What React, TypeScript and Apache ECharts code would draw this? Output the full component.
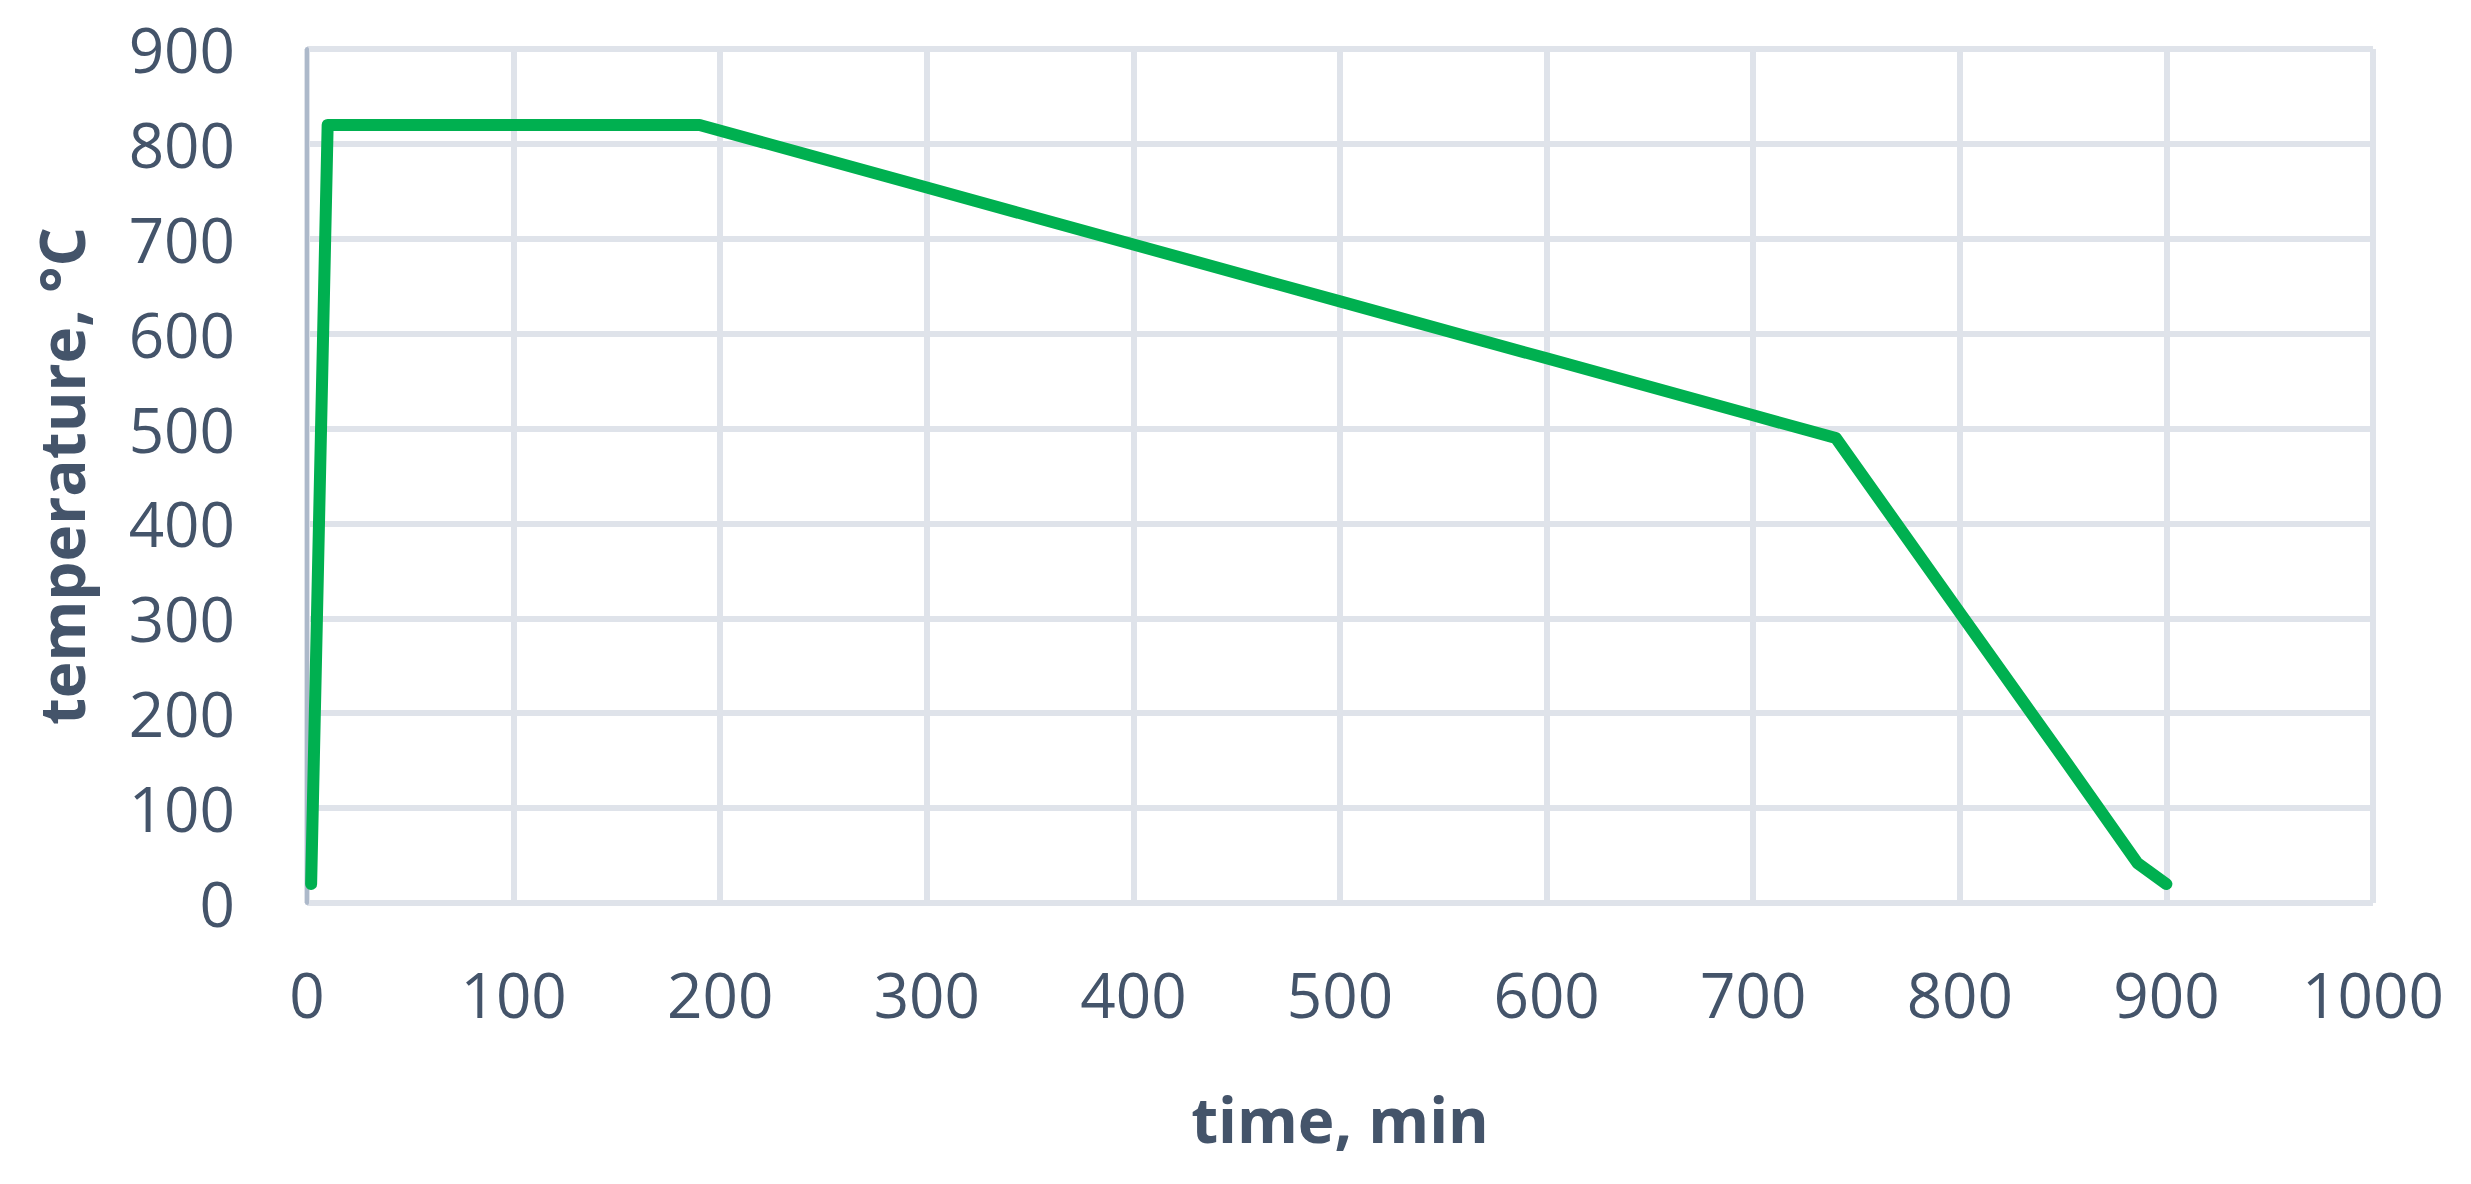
import React, { useEffect, useRef } from "react";
import * as echarts from "echarts";

const timeMin = [2, 10, 190, 300, 400, 500, 600, 700, 740, 800, 852, 886, 900];
const temperatureC = [20, 820, 820, 754, 694, 634, 574, 514, 490, 306, 147, 42, 20];
const xTicks = [0, 100, 200, 300, 400, 500, 600, 700, 800, 900, 1000];
const yTicks = [0, 100, 200, 300, 400, 500, 600, 700, 800, 900];

const TEXT = "#44546a";
const GRID = "#dfe3ea";
const FONT = "'Open Sans', 'Noto Sans', sans-serif";

export default function App() {
  const ref = useRef<HTMLDivElement>(null);
  useEffect(() => {
    if (!ref.current) return;
    const chart = echarts.init(ref.current, undefined, { renderer: "svg" });
    const data = timeMin.map((t, i) => [t, temperatureC[i]]);
    chart.setOption({
      animation: false,
      backgroundColor: "#ffffff",
      grid: { left: 307, right: 98, top: 49, bottom: 281, containLabel: false },
      xAxis: {
        type: "value",
        min: xTicks[0],
        max: xTicks[xTicks.length - 1],
        interval: 100,
        name: "time, min",
        nameLocation: "middle",
        nameGap: 185,
        nameTextStyle: { color: TEXT, fontSize: 62, fontWeight: "bold", fontFamily: FONT },
        axisLine: { show: false },
        axisTick: { show: false },
        axisLabel: {
          color: TEXT,
          fontSize: 62,
          fontFamily: FONT,
          margin: 60,
          formatter: (v: number) => String(v),
        },
        splitLine: { show: true, lineStyle: { color: GRID, width: 6 } },
      },
      yAxis: {
        type: "value",
        min: yTicks[0],
        max: yTicks[yTicks.length - 1],
        interval: 100,
        name: "temperature, °C",
        nameLocation: "middle",
        nameGap: 215,
        nameTextStyle: { color: TEXT, fontSize: 62, fontWeight: "bold", fontFamily: FONT },
        axisLine: { show: true, lineStyle: { color: "#adb9ca", width: 4 } },
        axisTick: { show: false },
        axisLabel: {
          color: TEXT,
          fontSize: 62,
          fontFamily: FONT,
          margin: 72,
          formatter: (v: number) => String(v),
        },
        splitLine: { show: true, lineStyle: { color: GRID, width: 6 } },
      },
      series: [
        {
          type: "line",
          data,
          showSymbol: false,
          symbol: "none",
          lineStyle: { color: "#00b050", width: 12, cap: "round", join: "round" },
          z: 5,
        },
      ],
    });
    return () => chart.dispose();
  }, []);
  return (
    <div
      ref={ref}
      style={{ position: "fixed", left: 0, top: 0, width: 2471, height: 1184, background: "#fff" }}
    />
  );
}
